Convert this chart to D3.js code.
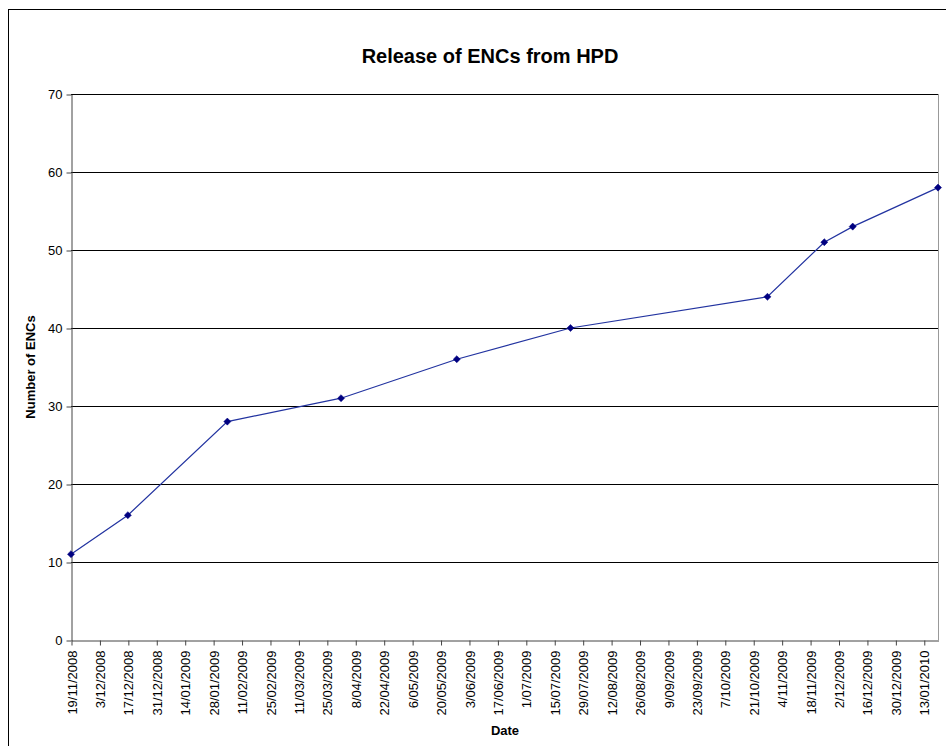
<!DOCTYPE html>
<html>
<head>
<meta charset="utf-8">
<script src="https://cdn.jsdelivr.net/npm/d3@7"></script>
<style>
  html, body { margin: 0; padding: 0; background: #fff; }
  svg { display: block; font-family: "Liberation Sans", Arial, sans-serif; }
</style>
</head>
<body>
<svg id="chart" width="946" height="746"></svg>
<script>
// Data
const releaseDates = ["2008-11-19", "2008-12-17", "2009-02-04", "2009-04-01", "2009-05-28",
                      "2009-07-23", "2009-10-28", "2009-11-25", "2009-12-09", "2010-01-20"];
const encCounts = [11, 16, 28, 31, 36, 40, 44, 51, 53, 58];
const yTicks = [0, 10, 20, 30, 40, 50, 60, 70];
const xStart = "2008-11-19";
const xEnd = "2010-01-20";
const tickStepDays = 14;

const parse = d3.utcParse("%Y-%m-%d");
const data = releaseDates.map((d, i) => ({ date: parse(d), value: encCounts[i] }));

const svg = d3.select("#chart");
const W = 946, H = 746;
const margin = { left: 71, right: 946 - 938, top: 94, bottom: 746 - 640 };

// Outer border
svg.append("rect").attr("x", 8.5).attr("y", 9.5).attr("width", W).attr("height", H)
  .attr("fill", "#fff").attr("stroke", "#000").attr("stroke-width", 1);

const x = d3.scaleUtc().domain([parse(xStart), parse(xEnd)]).range([margin.left, W - margin.right]);
const y = d3.scaleLinear().domain([0, 70]).range([H - margin.bottom, margin.top]);

// Tick dates every 14 days
const tickDates = d3.utcDay.every(1).range(parse(xStart), d3.utcDay.offset(parse(xEnd), 1))
  .filter((d, i) => i % tickStepDays === 0);

const fmt = d => `${d.getUTCDate()}/${d3.utcFormat("%m/%Y")(d)}`;

// Gridlines
svg.append("g").selectAll("line").data(yTicks.filter(t => t > 0)).join("line")
  .attr("x1", margin.left).attr("x2", W - margin.right)
  .attr("y1", d => Math.round(y(d)) + 0.5).attr("y2", d => Math.round(y(d)) + 0.5)
  .attr("stroke", "#000").attr("stroke-width", 1);

// Plot area right border (gray)
svg.append("line").attr("x1", W - margin.right + 0.5).attr("x2", W - margin.right + 0.5)
  .attr("y1", margin.top).attr("y2", H - margin.bottom)
  .attr("stroke", "#999").attr("stroke-width", 1);

// Y axis
const yAxis = d3.axisLeft(y).tickValues(yTicks).tickSize(5).tickSizeOuter(0).tickPadding(4);
const gy = svg.append("g").attr("transform", `translate(${margin.left + 0.5},0.5)`).call(yAxis);
gy.select(".domain").attr("stroke", "#444");
gy.selectAll(".tick line").attr("stroke", "#444");
gy.selectAll("text").attr("font-size", 13).attr("fill", "#000")
  .attr("font-family", "Liberation Sans, Arial, sans-serif");

// X axis
const xAxis = d3.axisBottom(x).tickValues(tickDates).tickFormat(fmt).tickSize(5).tickSizeOuter(0);
const gx = svg.append("g").attr("transform", `translate(0.5,${H - margin.bottom + 0.5})`).call(xAxis);
gx.select(".domain").attr("stroke", "#444");
gx.selectAll(".tick line").attr("stroke", "#444");
gx.selectAll("text")
  .attr("font-size", 13).attr("fill", "#000")
  .attr("font-family", "Liberation Sans, Arial, sans-serif")
  .attr("transform", "rotate(-90)")
  .attr("text-anchor", "end")
  .attr("dy", "0.35em")
  .attr("x", -10).attr("y", 0);

// Line
svg.append("path").datum(data)
  .attr("fill", "none").attr("stroke", "#2233a0").attr("stroke-width", 1.2)
  .attr("d", d3.line().x(d => x(d.date)).y(d => y(d.value)));

// Diamond markers
svg.append("g").selectAll("path").data(data).join("path")
  .attr("transform", d => `translate(${x(d.date)},${y(d.value)})`)
  .attr("d", d3.symbol().type(d3.symbolDiamond2).size(32))
  .attr("fill", "#000080").attr("stroke", "#000080").attr("stroke-width", 0.5);

// Title
svg.append("text").attr("x", 490).attr("y", 63).attr("text-anchor", "middle")
  .attr("font-size", 20).attr("font-weight", "bold").attr("fill", "#000")
  .text("Release of ENCs from HPD");

// Y label
svg.append("text").attr("transform", `translate(35,${(margin.top + H - margin.bottom) / 2}) rotate(-90)`)
  .attr("text-anchor", "middle").attr("font-size", 13).attr("font-weight", "bold")
  .text("Number of ENCs");

// X label
svg.append("text").attr("x", 505).attr("y", 735).attr("text-anchor", "middle")
  .attr("font-size", 13).attr("font-weight", "bold").text("Date");
</script>
</body>
</html>
